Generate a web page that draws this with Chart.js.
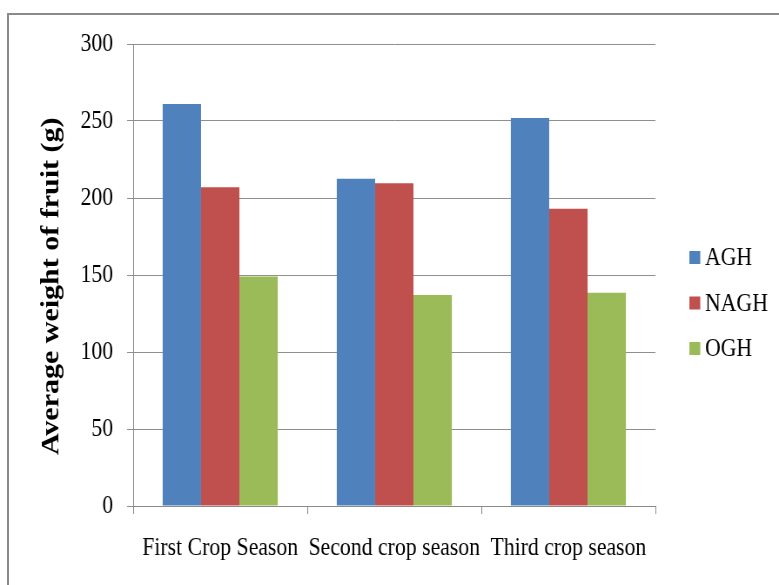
<!DOCTYPE html>
<html>
<head>
<meta charset="utf-8">
<script src="https://cdn.jsdelivr.net/npm/chart.js@4/dist/chart.umd.min.js"></script>
<style>
  html, body { margin: 0; padding: 0; background: #fff; }
  body { width: 779px; height: 585px; position: relative; overflow: hidden; }
  #frame {
    position: absolute; left: 7px; top: 13px; width: 900px; height: 700px;
    border-top: 2px solid #8a8a8a; border-left: 2px solid #8a8a8a;
  }
  #wrap {
    position: absolute; left: 0; top: 0; width: 895px; height: 585px;
    transform: scaleX(0.8704); transform-origin: 0 0;
  }
</style>
</head>
<body>
<div id="frame"></div>
<div id="wrap"><canvas id="c" width="895" height="585"></canvas></div>
<script>
// Crop seasons and average fruit weight (g) per greenhouse type
const seasons = ['First Crop Season', 'Second crop season', 'Third crop season'];
const seriesNames = ['AGH', 'NAGH', 'OGH'];
const agh  = [261, 212.5, 252];
const nagh = [207, 209.5, 193];
const ogh  = [149, 137, 138.5];
const seriesColors = ['#4F81BD', '#C0504D', '#9BBB59'];

const serif = '"Liberation Serif", "Times New Roman", serif';

// Legend drawn at the right of the plot: square swatch + label
const sideLegend = {
  id: 'sideLegend',
  afterDraw(chart) {
    const { ctx, chartArea } = chart;
    ctx.save();
    ctx.font = '25px ' + serif;
    ctx.textBaseline = 'middle';
    ctx.textAlign = 'left';
    const x0 = chartArea.right + 39;
    const yMid = (chartArea.top + chartArea.bottom) / 2 + 28;
    chart.data.datasets.forEach((ds, i) => {
      const y = yMid + (i - 1) * 45.5;
      ctx.fillStyle = ds.backgroundColor;
      ctx.fillRect(x0, y - 6.5, 12.5, 13);
      ctx.fillStyle = '#000';
      ctx.fillText(ds.label, x0 + 18, y + 1);
    });
    ctx.restore();
  }
};

const values = [agh, nagh, ogh];
new Chart(document.getElementById('c'), {
  type: 'bar',
  data: {
    labels: seasons,
    datasets: seriesNames.map((name, i) => ({
      label: name,
      data: values[i],
      backgroundColor: seriesColors[i],
      borderWidth: 0,
      categoryPercentage: 0.661,
      barPercentage: 1.0
    }))
  },
  options: {
    responsive: false,
    animation: false,
    devicePixelRatio: 1,
    layout: { padding: { left: 37, right: 142, top: 44, bottom: 0 } },
    plugins: {
      legend: { display: false },
      tooltip: { enabled: false }
    },
    scales: {
      x: {
        grid: {
          offset: true, drawOnChartArea: false, drawTicks: true,
          tickLength: 8, color: '#8a8a8a', lineWidth: 1
        },
        border: { display: true, color: '#8a8a8a', width: 1 },
        ticks: {
          color: '#000', font: { family: serif, size: 25 }, padding: 19,
          maxRotation: 0, autoSkip: false
        },
        afterFit(scale) { scale.height = 79; }
      },
      y: {
        min: 0, max: 300,
        ticks: { stepSize: 50, color: '#000', font: { family: serif, size: 25 }, padding: 16 },
        grid: { color: '#8f8f8f', lineWidth: 1, tickLength: 7, drawTicks: true },
        border: { display: true, color: '#8a8a8a', width: 1 },
        title: {
          display: true,
          text: 'Average weight of fruit (g)\u2002 ',
          color: '#000',
          font: { family: serif, size: 30, weight: 'bold' },
          padding: { top: 4, bottom: 4 }
        },
        afterFit(scale) { scale.width = 116; }
      }
    }
  },
  plugins: [sideLegend]
});
</script>
</body>
</html>
